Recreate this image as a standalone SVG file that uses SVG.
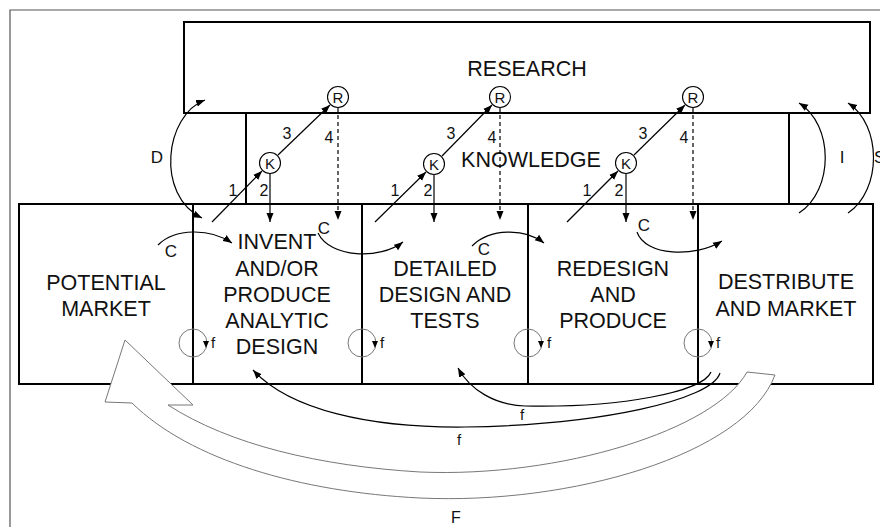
<svg xmlns="http://www.w3.org/2000/svg" width="880" height="527" viewBox="0 0 880 527">
<style>
.box{fill:none;stroke:#000;stroke-width:2}
.lbl{font-family:"Liberation Sans",Arial,sans-serif;font-size:21.5px;fill:#111;text-anchor:middle}
.sm{font-family:"Liberation Sans",Arial,sans-serif;font-size:16px;fill:#111;text-anchor:middle}
.cn{fill:none;stroke:#000;stroke-width:1.2}
.ds{fill:none;stroke:#000;stroke-width:1.2;stroke-dasharray:4,3}
.loop{fill:none;stroke:#777;stroke-width:1}
.circ{fill:#fff;stroke:#000;stroke-width:1.1}
</style>
<defs>
<marker id="ah" markerUnits="userSpaceOnUse" markerWidth="10" markerHeight="8" refX="9" refY="4" orient="auto-start-reverse">
<path d="M0,0.5 L9,4 L0,7.5 z" fill="#000"/>
</marker>
</defs>
<rect width="880" height="527" fill="#fff"/>
<path d="M10,527 L10,10 L880,10" fill="none" stroke="#555" stroke-width="1.2"/>

<g id="research">
<rect class="box" x="184" y="22" width="686" height="91"/>
<text class="lbl" x="527" y="76">RESEARCH</text>
</g>
<g id="knowledge">
<path class="box" d="M246,113 L246,204 M789,113 L789,204"/>
<text class="lbl" x="531" y="167">KNOWLEDGE</text>
</g>
<g id="potential-market">
<rect class="box" x="19" y="204" width="854" height="180"/>
<text class="lbl" x="106" y="290">POTENTIAL</text>
<text class="lbl" x="106" y="316">MARKET</text>
</g>
<g id="invent">
<path class="box" d="M193,204 L193,384"/>
<text class="lbl" x="277" y="249">INVENT</text>
<text class="lbl" x="277" y="276">AND/OR</text>
<text class="lbl" x="277" y="302">PRODUCE</text>
<text class="lbl" x="277" y="328">ANALYTIC</text>
<text class="lbl" x="277" y="354">DESIGN</text>
</g>
<g id="detailed">
<path class="box" d="M362,204 L362,384"/>
<text class="lbl" x="445" y="276">DETAILED</text>
<text class="lbl" x="445" y="302">DESIGN AND</text>
<text class="lbl" x="445" y="328">TESTS</text>
</g>
<g id="redesign">
<path class="box" d="M528,204 L528,384"/>
<text class="lbl" x="613" y="276">REDESIGN</text>
<text class="lbl" x="613" y="302">AND</text>
<text class="lbl" x="613" y="328">PRODUCE</text>
</g>
<g id="distribute">
<path class="box" d="M698,204 L698,384"/>
<text class="lbl" x="786" y="289">DESTRIBUTE</text>
<text class="lbl" x="786" y="316">AND MARKET</text>
</g>

<g id="connectors">
<path class="cn" d="M205,100 C165,115 155,195 202,218" marker-start="url(#ah)" marker-end="url(#ah)"/>
<text class="sm" x="157" y="163" style="font-size:17px">D</text>
<path class="cn" d="M799,213 C834,190 834,125 799,103" marker-end="url(#ah)"/>
<text class="sm" x="842" y="163" style="font-size:17px">I</text>
<path class="cn" d="M848,213 C882,190 882,125 848,103" marker-end="url(#ah)"/>
<text x="874" y="163" style="font-family:'Liberation Sans',Arial,sans-serif;font-size:17px;fill:#111">S</text>

<path class="cn" d="M212,222 L262,171" marker-end="url(#ah)"/>
<path class="cn" d="M270,174 L270,222" marker-end="url(#ah)"/>
<path class="cn" d="M278,155 L330,105" marker-end="url(#ah)"/>
<path class="ds" d="M338,108 L338,220" marker-end="url(#ah)"/>
<path class="cn" d="M375,222 L426,172" marker-end="url(#ah)"/>
<path class="cn" d="M434,175 L434,222" marker-end="url(#ah)"/>
<path class="cn" d="M442,156 L492,105" marker-end="url(#ah)"/>
<path class="ds" d="M500,108 L500,220" marker-end="url(#ah)"/>
<path class="cn" d="M567,222 L618,171" marker-end="url(#ah)"/>
<path class="cn" d="M626,174 L626,222" marker-end="url(#ah)"/>
<path class="cn" d="M634,155 L685,105" marker-end="url(#ah)"/>
<path class="ds" d="M693,108 L693,220" marker-end="url(#ah)"/>

<g id="k1"><circle class="circ" cx="270" cy="163" r="10.5"/><text class="sm" x="270" y="168.5" style="font-size:15px">K</text></g>
<g id="r1"><circle class="circ" cx="338" cy="97" r="10.5"/><text class="sm" x="338" y="102.5" style="font-size:15px">R</text></g>
<g id="k2"><circle class="circ" cx="434" cy="164" r="10.5"/><text class="sm" x="434" y="169.5" style="font-size:15px">K</text></g>
<g id="r2"><circle class="circ" cx="500" cy="97" r="10.5"/><text class="sm" x="500" y="102.5" style="font-size:15px">R</text></g>
<g id="k3"><circle class="circ" cx="626" cy="163" r="10.5"/><text class="sm" x="626" y="168.5" style="font-size:15px">K</text></g>
<g id="r3"><circle class="circ" cx="693" cy="97" r="10.5"/><text class="sm" x="693" y="102.5" style="font-size:15px">R</text></g>

<g class="nums">
<text class="sm" x="233" y="196">1</text><text class="sm" x="264" y="196">2</text><text class="sm" x="287" y="139">3</text><text class="sm" x="329" y="143">4</text>
<text class="sm" x="395" y="196">1</text><text class="sm" x="428" y="196">2</text><text class="sm" x="451" y="139">3</text><text class="sm" x="492" y="143">4</text>
<text class="sm" x="587" y="196">1</text><text class="sm" x="619" y="196">2</text><text class="sm" x="643" y="139">3</text><text class="sm" x="684" y="143">4</text>
</g>

<path class="cn" d="M158,245 C175,228 210,228 232,243" marker-end="url(#ah)"/>
<text class="sm" x="171" y="257" style="font-size:17px">C</text>
<path class="cn" d="M318,233 C330,258 380,260 403,242" marker-end="url(#ah)"/>
<text class="sm" x="324" y="234" style="font-size:17px">C</text>
<path class="cn" d="M472,246 C490,228 525,228 544,243" marker-end="url(#ah)"/>
<text class="sm" x="484" y="255" style="font-size:17px">C</text>
<path class="cn" d="M637,232 C645,256 695,258 722,241" marker-end="url(#ah)"/>
<text class="sm" x="644" y="231" style="font-size:17px">C</text>

<g id="loops">
<circle class="loop" cx="193" cy="343" r="14"/><path d="M203,341 L209,341 L206,348 z"/><text class="sm" x="213" y="348" style="font-size:15px">f</text>
<circle class="loop" cx="362" cy="343" r="14"/><path d="M372,341 L378,341 L375,348 z"/><text class="sm" x="382" y="348" style="font-size:15px">f</text>
<circle class="loop" cx="528" cy="343" r="14"/><path d="M538,341 L544,341 L541,348 z"/><text class="sm" x="549" y="348" style="font-size:15px">f</text>
<circle class="loop" cx="698" cy="343" r="14"/><path d="M708,341 L714,341 L711,348 z"/><text class="sm" x="718" y="348" style="font-size:15px">f</text>
</g>

<path class="cn" d="M711,372 C703,392 620,408 525,406 C495,405 470,390 458,368" marker-end="url(#ah)"/>
<text class="sm" x="522" y="420" style="font-size:15px">f</text>
<path class="cn" d="M720,373 C712,400 600,425 465,427 C370,428 290,410 253,370" marker-end="url(#ah)"/>
<text class="sm" x="459" y="445" style="font-size:15px">f</text>
<path d="M775,375 C745,455 570,505 420,498 C300,492 190,460 132,403 L105,402 L125,340 L193,405 L168,405 C230,445 320,466 420,472 C560,478 715,430 747,372 Z" fill="#fff" stroke="#777" stroke-width="1"/>
<text class="sm" x="456" y="523">F</text>
</g>
</svg>
